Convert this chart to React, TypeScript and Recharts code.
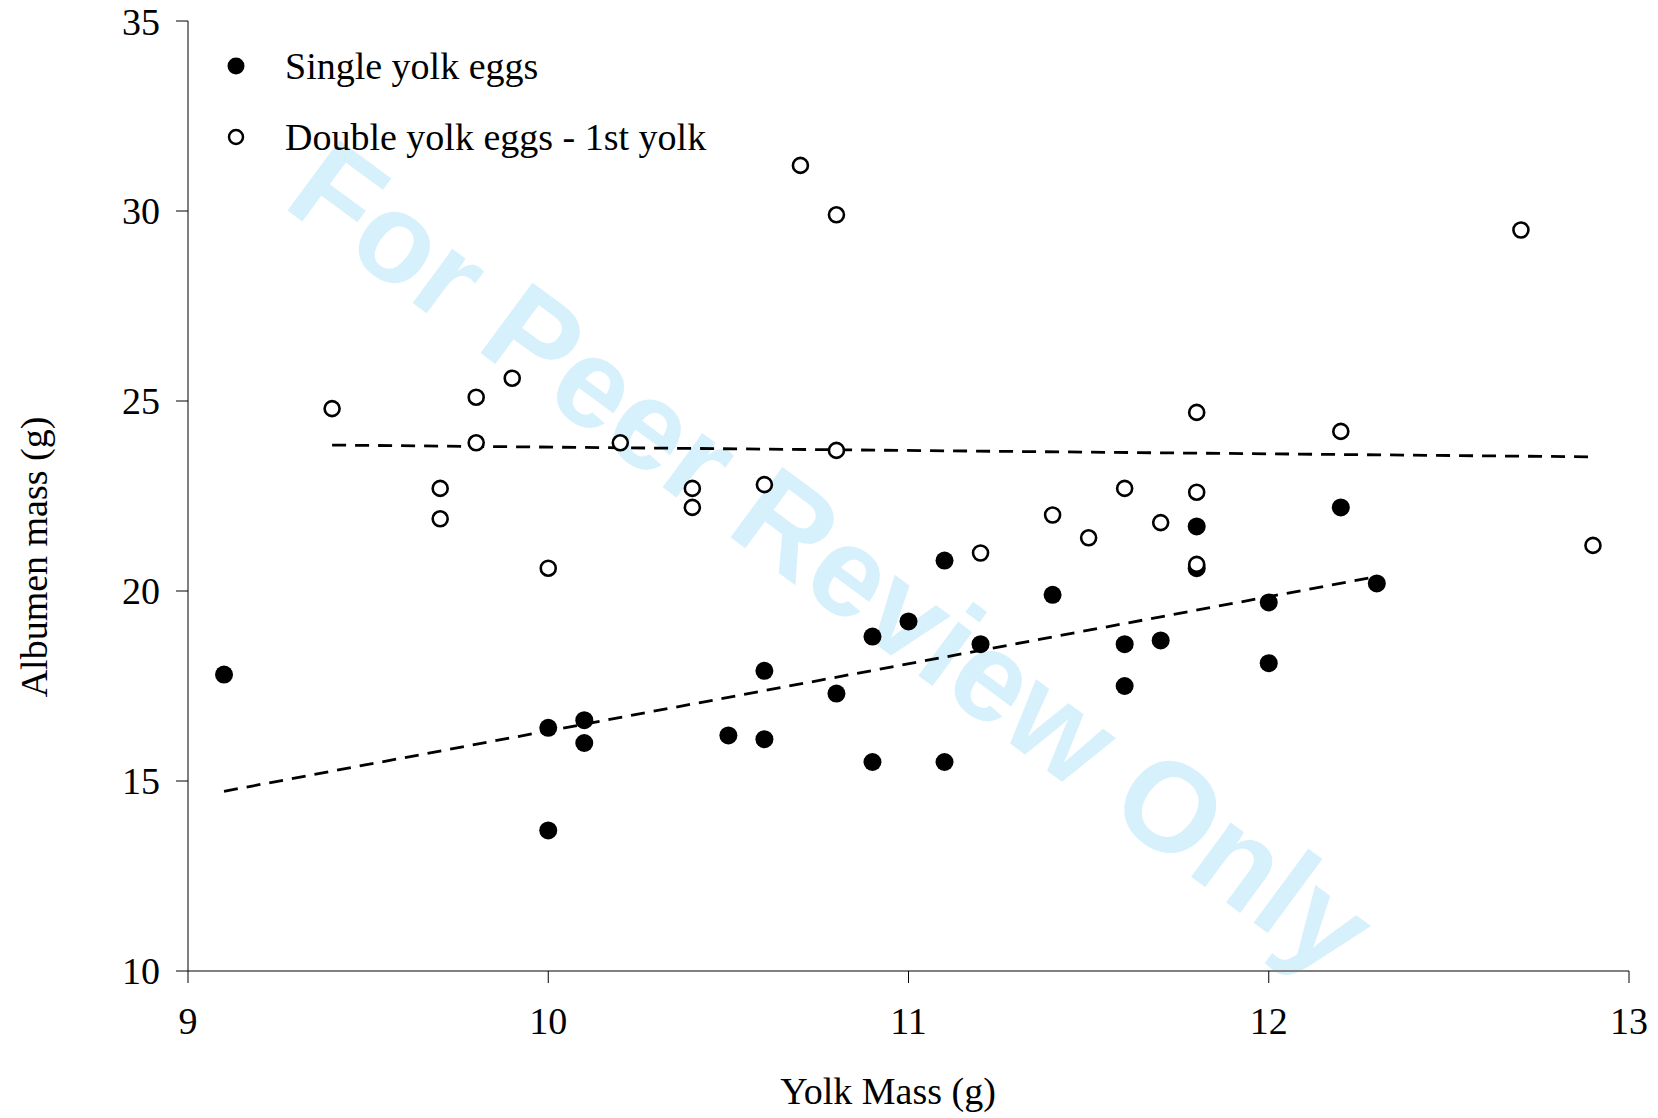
import { ScatterChart, Scatter, XAxis, YAxis } from 'recharts';

// Single yolk eggs (filled markers)
const singleYolk = [9.1, 10.0, 10.0, 10.1, 10.1, 10.5, 10.6, 10.6, 10.8, 10.9, 10.9, 11.0, 11.1, 11.1, 11.2, 11.4, 11.6, 11.6, 11.7, 11.8, 11.8, 12.0, 12.0, 12.2, 12.3];
const singleAlbumen = [17.8, 16.4, 13.7, 16.6, 16.0, 16.2, 17.9, 16.1, 17.3, 18.8, 15.5, 19.2, 20.8, 15.5, 18.6, 19.9, 18.6, 17.5, 18.7, 21.7, 20.6, 19.7, 18.1, 22.2, 20.2];

// Double yolk eggs - 1st yolk (open markers)
const doubleYolk = [9.4, 9.7, 9.7, 9.8, 9.8, 9.9, 10.0, 10.2, 10.4, 10.4, 10.6, 10.7, 10.8, 10.8, 11.2, 11.4, 11.5, 11.6, 11.7, 11.8, 11.8, 11.8, 12.2, 12.7, 12.9];
const doubleAlbumen = [24.8, 22.7, 21.9, 25.1, 23.9, 25.6, 20.6, 23.9, 22.7, 22.2, 22.8, 31.2, 29.9, 23.7, 21.0, 22.0, 21.4, 22.7, 21.8, 24.7, 22.6, 20.7, 24.2, 29.5, 21.2];

// trend line end points
const singleTrendX = [9.1, 12.3];
const singleTrendY = [14.73, 20.38];
const doubleTrendX = [9.4, 12.9];
const doubleTrendY = [23.84, 23.53];

const xTicks = [9, 10, 11, 12, 13];
const yTicks = [10, 15, 20, 25, 30, 35];

const toPoints = (xs: number[], ys: number[]) => xs.map((x, i) => ({ x, y: ys[i] }));

const FONT = '"Liberation Serif", "DejaVu Serif", serif';

const FilledDot = (props: any) => <circle cx={props.cx} cy={props.cy} r={9} fill="#000" />;
const OpenDot = (props: any) => (
  <circle cx={props.cx} cy={props.cy} r={7.5} fill="#fff" stroke="#000" strokeWidth={2.6} />
);
const NoDot = () => <g />;

const trendLine = { stroke: '#000', strokeWidth: 2.8, strokeDasharray: '14 9' };

export default function App() {
  const tickStyle = { fill: '#000', fontSize: 38, fontFamily: FONT };
  return (
    <div style={{ position: 'absolute', left: 0, top: 0, width: 1658, height: 1118, background: '#fff' }}>
      <div
        style={{
          position: 'absolute',
          left: 832,
          top: 558,
          transform: 'translate(-50%, -50%) rotate(36.4deg)',
          whiteSpace: 'nowrap',
          fontFamily: '"Liberation Sans", Arial, sans-serif',
          fontWeight: 'bold',
          fontSize: 127,
          color: '#d6f0fc',
          lineHeight: 1,
        }}
      >
        For Peer Review Only
      </div>
      <div style={{ position: 'absolute', left: 0, top: 0 }}>
        <ScatterChart width={1658} height={1118} margin={{ top: 21, right: 29, left: 108, bottom: 47 }}>
          <XAxis
            type="number"
            dataKey="x"
            domain={[9, 13]}
            ticks={xTicks}
            height={100}
            tick={tickStyle}
            tickSize={12}
            tickMargin={24}
            axisLine={{ stroke: '#808080', strokeWidth: 2 }}
            tickLine={{ stroke: '#000', strokeWidth: 1 }}
            label={{
              content: () => (
                <text x={888} y={1104} textAnchor="middle" fontSize={38} fontFamily={FONT} fill="#000">
                  Yolk Mass (g)
                </text>
              ),
            }}
          />
          <YAxis
            type="number"
            dataKey="y"
            domain={[10, 35]}
            ticks={yTicks}
            width={80}
            tick={tickStyle}
            tickSize={12}
            tickMargin={16}
            axisLine={{ stroke: '#000', strokeWidth: 1 }}
            tickLine={{ stroke: '#000', strokeWidth: 1 }}
            label={{
              content: () => (
                <text
                  x={47}
                  y={557}
                  textAnchor="middle"
                  fontSize={38}
                  fontFamily={FONT}
                  fill="#000"
                  transform="rotate(-90 47 557)"
                >
                  Albumen mass (g)
                </text>
              ),
            }}
          />
          <Scatter data={toPoints(singleTrendX, singleTrendY)} line={trendLine} shape={NoDot} isAnimationActive={false} />
          <Scatter data={toPoints(doubleTrendX, doubleTrendY)} line={trendLine} shape={NoDot} isAnimationActive={false} />
          <Scatter data={toPoints(singleYolk, singleAlbumen)} shape={FilledDot} isAnimationActive={false} />
          <Scatter data={toPoints(doubleYolk, doubleAlbumen)} shape={OpenDot} isAnimationActive={false} />
        </ScatterChart>
      </div>
      <svg style={{ position: 'absolute', left: 0, top: 0 }} width={720} height={180}>
        <circle cx={236} cy={66} r={8.5} fill="#000" />
        <circle cx={236} cy={137} r={7} fill="#fff" stroke="#000" strokeWidth={2.5} />
        <text x={285} y={66} dy="0.35em" fontSize={38} fontFamily={FONT} fill="#000">
          Single yolk eggs
        </text>
        <text x={285} y={137} dy="0.35em" fontSize={38} fontFamily={FONT} fill="#000">
          Double yolk eggs - 1st yolk
        </text>
      </svg>
    </div>
  );
}
